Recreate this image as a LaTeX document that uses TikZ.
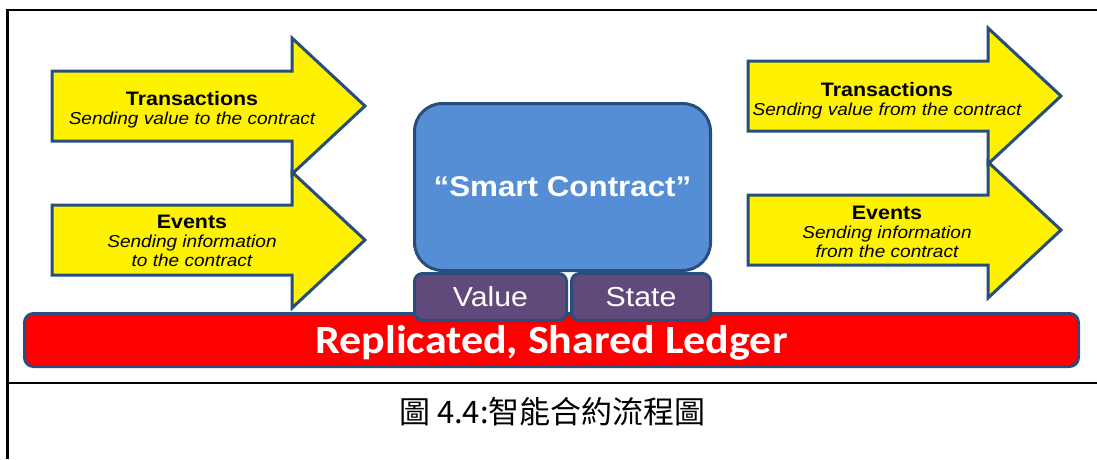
\documentclass[tikz,border=0pt]{standalone}
\usepackage{fontspec}
\usepackage{tikz}
\usetikzlibrary{positioning}
\setmainfont{Liberation Sans}[FakeStretch=1.1]
\newfontfamily\ledgerfont{Carlito}[FakeStretch=1.1]
\newfontfamily\cjk{Noto Sans CJK TC}
\definecolor{edgeblue}{RGB}{40,78,125}
\definecolor{contractblue}{RGB}{85,142,213}
\definecolor{boxpurple}{RGB}{96,74,123}
\newcommand{\titletext}[1]{{\fontsize{19.5}{21}\selectfont\bfseries\upshape #1}}
\tikzstyle{bigarrow}=[draw=edgeblue, fill=yellow, line width=3, line join=miter]
\tikzstyle{arrowtext}=[align=center, font=\fontsize{17.3}{19}\selectfont\itshape]
\tikzstyle{contractbox}=[rectangle, rounded corners=28, draw=edgeblue, fill=contractblue,
  line width=3, text=white, inner sep=0, font=\fontsize{28.5}{31}\selectfont\bfseries]
\tikzstyle{databox}=[rectangle, rounded corners=8, draw=edgeblue, fill=boxpurple,
  line width=3, text=white, inner sep=0, minimum height=47, font=\fontsize{27.5}{30}\selectfont]
\tikzstyle{ledgerbar}=[rectangle, rounded corners=9, draw=edgeblue, fill=red, text depth=2,
  line width=3, text=white, inner sep=0, font=\ledgerfont\bfseries\fontsize{40}{44}\selectfont]

\begin{document}
\begin{tikzpicture}[x=1pt, y=-1pt]
  \useasboundingbox (0,0) rectangle (1097,459);
  % table frame round the figure
  \draw[line width=2.5] (7.5,459) -- (7.5,10) -- (1097,10);
  \draw[line width=2.5] (7.5,383) -- (1097,383);
  % yellow block arrows, in and out
  \foreach \ax/\ay in {52/106, 52/240, 748/96, 748/230}
    \draw[bigarrow, shift={(\ax,\ay)}] (0,-35) -- (240,-35) -- (240,-68) -- (313,0)
      -- (240,68) -- (240,35) -- (0,35) -- cycle;
  \node[arrowtext] (txin) at (192,110) {\titletext{Transactions}\\Sending value to the contract};
  \node[arrowtext] (evin) at (192,241) {\titletext{Events}\\Sending information\\to the contract};
  \node[arrowtext] (txout) at (887,100.5) {\titletext{Transactions}\\Sending value from the contract};
  \node[arrowtext] (evout) at (887,231.5) {\titletext{Events}\\Sending information\\from the contract};
  % ledger and the contract sitting on it
  \node[ledgerbar, minimum width=1054, minimum height=53] (ledger) at (551.5,340) {Replicated, Shared Ledger};
  \node[databox, minimum width=152] (value) at (490.5,297) {Value};
  \node[databox, minimum width=139, right=2 of value] (state) {State};
  \node[contractbox, minimum width=296, minimum height=167] (contract) at (562.5,187) {``Smart Contract''};
  \node[font=\cjk\fontsize{31}{34}\selectfont] (caption) at (552.5,412) {圖 4.4:智能合約流程圖};
\end{tikzpicture}
\end{document}
